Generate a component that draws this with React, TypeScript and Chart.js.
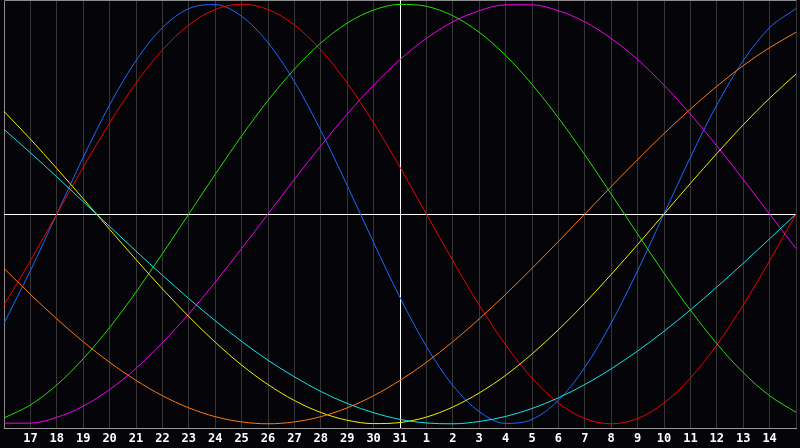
import React, { useEffect, useRef } from "react";
import { Chart, registerables } from "chart.js";

Chart.register(...registerables);

// days shown, index -1 .. 29 (first and last sit on the frame edges)
const days = [
  "16", "17", "18", "19", "20", "21", "22", "23", "24", "25", "26", "27", "28", "29", "30", "31",
  "1", "2", "3", "4", "5", "6", "7", "8", "9", "10", "11", "12", "13", "14", "15",
];
const todayLabel = "31";

const physical = [
  -0.52, -0.27, 0, 0.27, 0.52, 0.731, 0.888, 0.979, 0.998, 0.942, 0.817, 0.631, 0.398, 0.136, -0.136, -0.398,
  -0.631, -0.817, -0.942, -0.998, -0.979, -0.888, -0.731, -0.52, -0.27, 0, 0.27, 0.52, 0.731, 0.888, 0.979,
];
const emotional = [
  -0.434, -0.223, 0, 0.223, 0.434, 0.624, 0.782, 0.901, 0.975, 1, 0.975, 0.901, 0.782, 0.624, 0.434, 0.223,
  0, -0.223, -0.434, -0.624, -0.782, -0.901, -0.975, -1, -0.975, -0.901, -0.782, -0.624, -0.434, -0.223, 0,
];
const intellectual = [
  -0.972, -0.91, -0.815, -0.69, -0.541, -0.372, -0.189, 0, 0.189, 0.372, 0.541, 0.69, 0.815, 0.91, 0.972, 0.999,
  0.99, 0.945, 0.866, 0.756, 0.618, 0.458, 0.282, 0.095, -0.095, -0.282, -0.458, -0.618, -0.756, -0.866, -0.945,
];
const intuitive = [
  -0.997, -0.997, -0.969, -0.916, -0.837, -0.736, -0.614, -0.476, -0.325, -0.165, 0, 0.165, 0.325, 0.476, 0.614, 0.736,
  0.837, 0.916, 0.969, 0.997, 0.997, 0.969, 0.916, 0.837, 0.736, 0.614, 0.476, 0.325, 0.165, 0, -0.165,
];
const aesthetic = [
  0.489, 0.357, 0.217, 0.073, -0.073, -0.217, -0.357, -0.489, -0.611, -0.72, -0.813, -0.889, -0.946, -0.983, -0.999, -0.994,
  -0.968, -0.92, -0.853, -0.769, -0.667, -0.552, -0.425, -0.288, -0.146, 0, 0.146, 0.288, 0.425, 0.552, 0.667,
];
const awareness = [
  -0.259, -0.383, -0.5, -0.609, -0.707, -0.793, -0.866, -0.924, -0.966, -0.991, -1, -0.991, -0.966, -0.924, -0.866, -0.793,
  -0.707, -0.609, -0.5, -0.383, -0.259, -0.131, 0, 0.131, 0.259, 0.383, 0.5, 0.609, 0.707, 0.793, 0.866,
];
const spiritual = [
  0.403, 0.292, 0.177, 0.059, -0.059, -0.177, -0.292, -0.403, -0.509, -0.607, -0.697, -0.776, -0.846, -0.903, -0.947, -0.979,
  -0.996, -1.0, -0.989, -0.965, -0.927, -0.876, -0.813, -0.738, -0.653, -0.559, -0.457, -0.348, -0.235, -0.118, 0,
];

const series = [
  { name: "Spiritual", data: spiritual, color: "#10e8e8" },
  { name: "Awareness", data: awareness, color: "#ff7a10" },
  { name: "Aesthetic", data: aesthetic, color: "#f0f000" },
  { name: "Intuitive", data: intuitive, color: "#f000f0" },
  { name: "Intellectual", data: intellectual, color: "#22e000" },
  { name: "Emotional", data: emotional, color: "#f00000" },
  { name: "Physical", data: physical, color: "#1a6aff" },
];

// frame, zero line and today's marker
const guides = {
  id: "guides",
  beforeDatasetsDraw(chart: any) {
    const { ctx, chartArea: a, scales } = chart;
    ctx.save();
    ctx.lineWidth = 1;
    ctx.strokeStyle = "#8a8a8a";
    ctx.beginPath();
    ctx.moveTo(a.left + 0.5, a.bottom);
    ctx.lineTo(a.left + 0.5, a.top + 0.5);
    ctx.lineTo(a.right, a.top + 0.5);
    ctx.stroke();
    const y0 = Math.round(scales.y.getPixelForValue(0)) + 0.5;
    const xt = Math.round(scales.x.getPixelForValue(days.indexOf(todayLabel))) + 0.5;
    ctx.strokeStyle = "#ffffff";
    ctx.beginPath();
    ctx.moveTo(a.left, y0);
    ctx.lineTo(a.right, y0);
    ctx.moveTo(xt, a.top);
    ctx.lineTo(xt, a.bottom);
    ctx.stroke();
    ctx.restore();
  },
};

const background = {
  id: "background",
  beforeDraw(chart: any) {
    const { ctx, width, height } = chart;
    ctx.save();
    ctx.fillStyle = "#050408";
    ctx.fillRect(0, 0, width, height);
    ctx.restore();
  },
};

export default function App() {
  const canvasRef = useRef<HTMLCanvasElement>(null);

  useEffect(() => {
    document.body.style.margin = "0";
    const chart = new Chart(canvasRef.current!, {
      type: "line",
      data: {
        labels: days,
        datasets: series.map((s) => ({
          label: s.name,
          data: s.data,
          borderColor: s.color,
          borderWidth: 1,
          pointRadius: 0,
          cubicInterpolationMode: "monotone" as const,
          fill: false,
        })),
      },
      options: {
        animation: false,
        responsive: true,
        maintainAspectRatio: false,
        layout: { padding: 0 },
        plugins: {
          legend: { display: false },
          tooltip: { enabled: false },
        },
        scales: {
          x: {
            offset: false,
            grid: {
              color: (c: any) => (c.index === 0 ? "transparent" : "#363636"),
              drawTicks: false,
            },
            border: { color: "#9a9a9a", width: 1 },
            ticks: {
              autoSkip: false,
              maxRotation: 0,
              padding: 4,
              color: "#ffffff",
              font: { family: "'DejaVu Sans Mono', monospace", size: 12, weight: "bold" },
              callback: (_v: any, i: number) => (i === 0 || i === days.length - 1 ? "" : days[i]),
            },
            afterFit: (scale: any) => {
              scale.height = 20;
            },
          },
          y: {
            display: false,
            min: -1.02,
            max: 1.02,
          },
        },
      },
      plugins: [background, guides],
    });
    return () => chart.destroy();
  }, []);

  return (
    <div style={{ width: 800, height: 448, position: "relative", background: "#050408" }}>
      <canvas ref={canvasRef} />
    </div>
  );
}
